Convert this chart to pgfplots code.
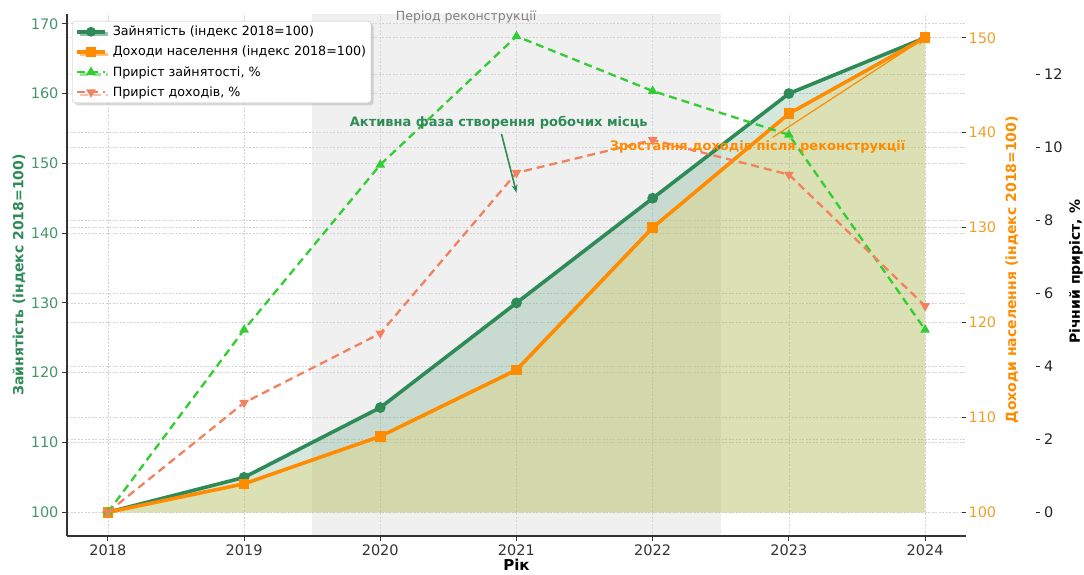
\documentclass[border=0pt]{standalone}
\usepackage{pgfplots}
\pgfplotsset{compat=1.18}
\usepackage{fontspec}
\setmainfont{DejaVu Sans}
\usetikzlibrary{shadows,arrows.meta}

\definecolor{empgreen}{RGB}{46,139,87}
\definecolor{empticks}{RGB}{70,150,105}
\definecolor{incorange}{RGB}{255,140,0}
\definecolor{incticks}{RGB}{240,160,40}
\definecolor{growgreen}{RGB}{50,205,50}
\definecolor{growsalmon}{RGB}{242,130,95}
\definecolor{spangray}{RGB}{240,240,240}
\definecolor{gridgray}{RGB}{212,212,212}
\definecolor{olivefill}{RGB}{236,209,70}

\pgfplotsset{
  base/.style={
    scale only axis, width=899pt, height=522pt,
    at={(67pt,38pt)}, anchor=south west,
    xmin=2017.7, xmax=2024.3,
    /pgf/number format/assume math mode=true,
    /pgf/number format/1000 sep={},
    tick label style={font=\fontsize{14.5}{17}\selectfont},
    label style={font=\bfseries\fontsize{14}{16}\selectfont},
    grid style={gridgray, dash pattern=on 2pt off 1.5pt, line width=0.6pt},
    ymajorgrids,
    set layers,
    clip=false,
  },
}

\begin{document}
\begin{tikzpicture}

% employment index (left axis)
\begin{axis}[base,
  axis x line*=bottom, axis y line*=left,
  axis line style={black!80, line width=1.3pt},
  xtick={2018,...,2024}, xmajorgrids,
  ymin=96.6, ymax=171.4, ytick={100,110,...,170},
  tick align=outside, major tick length=5pt,
  tick style={black!80, line width=1pt},
  xticklabel style={text=black!80},
  yticklabel style={text=empticks},
  xlabel={Рік},
  xlabel style={at={(axis description cs:0.5,-0.0556)}, anchor=center, text=black,
    font=\bfseries\fontsize{15}{17}\selectfont},
  ylabel={Зайнятість (індекс 2018=100)},
  ylabel style={at={(axis description cs:-0.0534,0.5)}, anchor=center, text=empgreen},
]
\addplot[on layer=axis background, fill=spangray, draw=none, forget plot]
  coordinates {(2019.5,96.6) (2022.5,96.6) (2022.5,171.4) (2019.5,171.4)};
\addplot[draw=none, fill=empgreen, fill opacity=0.2, forget plot]
  coordinates {(2018,100) (2019,105) (2020,115) (2021,130) (2022,145) (2023,160) (2024,168) (2024,100)};
\addplot[empgreen, line width=3.6pt, mark=*, mark size=3.5pt]
  coordinates {(2018,100) (2019,105) (2020,115) (2021,130) (2022,145) (2023,160) (2024,168)};
\node[text=gray, font=\fontsize{12.5}{14}\selectfont] at (axis cs:2020.63,170.9) {Період реконструкції};
\begin{pgfonlayer}{axis foreground}
\node[font=\bfseries\fontsize{13}{15}\selectfont, text=empgreen] at (axis cs:2020.87,155.8)
  {Активна фаза створення робочих місць};
\draw[-{Stealth[length=8pt,width=6pt]}, empgreen, line width=1.6pt]
  (axis cs:2020.89,154.2) -- (axis cs:2021.0,145.8);
\end{pgfonlayer}
\end{axis}

% income index (first right axis)
\begin{axis}[base, hide x axis,
  axis y line*=right, y axis line style={draw=none},
  ymin=97.5, ymax=152.5, ytick={100,110,...,150},
  tick align=inside, major tick length=4pt,
  ytick style={black!80, line width=1pt},
  yticklabel style={text=incticks, xshift=-1pt},
  ylabel={Доходи населення (індекс 2018=100)},
  ylabel style={at={(axis description cs:1.0512,0.51)}, anchor=center, text=incorange},
]
\addplot[draw=none, fill=olivefill, fill opacity=0.27, forget plot]
  coordinates {(2018,100) (2019,103) (2020,108) (2021,115) (2022,130) (2023,142) (2024,150) (2024,100)};
\addplot[incorange, line width=3.6pt, mark=square*, mark size=3.5pt]
  coordinates {(2018,100) (2019,103) (2020,108) (2021,115) (2022,130) (2023,142) (2024,150)};
\begin{pgfonlayer}{axis foreground}
\node[font=\bfseries\fontsize{13}{15}\selectfont, text=incorange] at (axis cs:2022.77,138.5)
  {Зростання доходів після реконструкції};
\draw[-{Stealth[length=9pt,width=7pt]}, incorange, line width=1.2pt]
  (axis cs:2022.88,139.5) -- (axis cs:2024,150);
\end{pgfonlayer}
\end{axis}

% annual growth (second right axis)
\begin{axis}[base, hide x axis,
  axis y line*=right, y axis line style={draw=none},
  ymin=-0.65, ymax=13.65, ytick={0,2,...,12},
  major tick length=0pt,
  yticklabel={\rule[0.3em]{4pt}{0.9pt}\hspace{4pt}\pgfmathprintnumber{\tick}},
  yticklabel style={xshift=70pt, inner xsep=0pt, text=black!85},
  ylabel={Річний приріст, \%},
  ylabel style={at={(axis description cs:1.1224,0.506)}, anchor=center, text=black},
  legend cell align=left,
  legend style={at={(axis description cs:0,1)}, anchor=north west, xshift=5pt, yshift=-7pt,
    font=\fontsize{12.7}{14}\selectfont, draw=gray!50, rounded corners=3pt, fill=white,
    drop shadow={shadow xshift=2.5pt, shadow yshift=-2.5pt, fill=gray!60},
    inner xsep=3pt, inner ysep=3pt, row sep=5pt,
    /tikz/every odd column/.append style={column sep=4pt}},
  legend image code/.code={\draw[mark repeat=2, mark phase=2, #1]
    plot coordinates {(0pt,0pt) (14pt,0pt) (28pt,0pt)};},
]
\addlegendimage{empgreen, line width=3.6pt, mark=*, mark size=3pt}
\addlegendentry{Зайнятість (індекс 2018=100)}
\addlegendimage{incorange, line width=3.6pt, mark=square*, mark size=3pt}
\addlegendentry{Доходи населення (індекс 2018=100)}
\addplot[growgreen, line width=2.3pt, dash pattern=on 8pt off 5pt,
  mark=triangle*, mark size=3.3pt, mark options={solid}]
  coordinates {(2018,0) (2019,5.0) (2020,9.52) (2021,13.04) (2022,11.54) (2023,10.34) (2024,5.0)};
\addlegendentry{Приріст зайнятості, \%}
\addplot[growsalmon, line width=2.3pt, dash pattern=on 8pt off 5pt,
  mark=triangle*, mark size=3.3pt, mark options={solid, rotate=180}]
  coordinates {(2018,0) (2019,3.0) (2020,4.9) (2021,9.3) (2022,10.2) (2023,9.25) (2024,5.65)};
\addlegendentry{Приріст доходів, \%}
\end{axis}

\pgfresetboundingbox
\path[use as bounding box] (0,0) rectangle (1084pt,574pt);
\end{tikzpicture}
\end{document}
